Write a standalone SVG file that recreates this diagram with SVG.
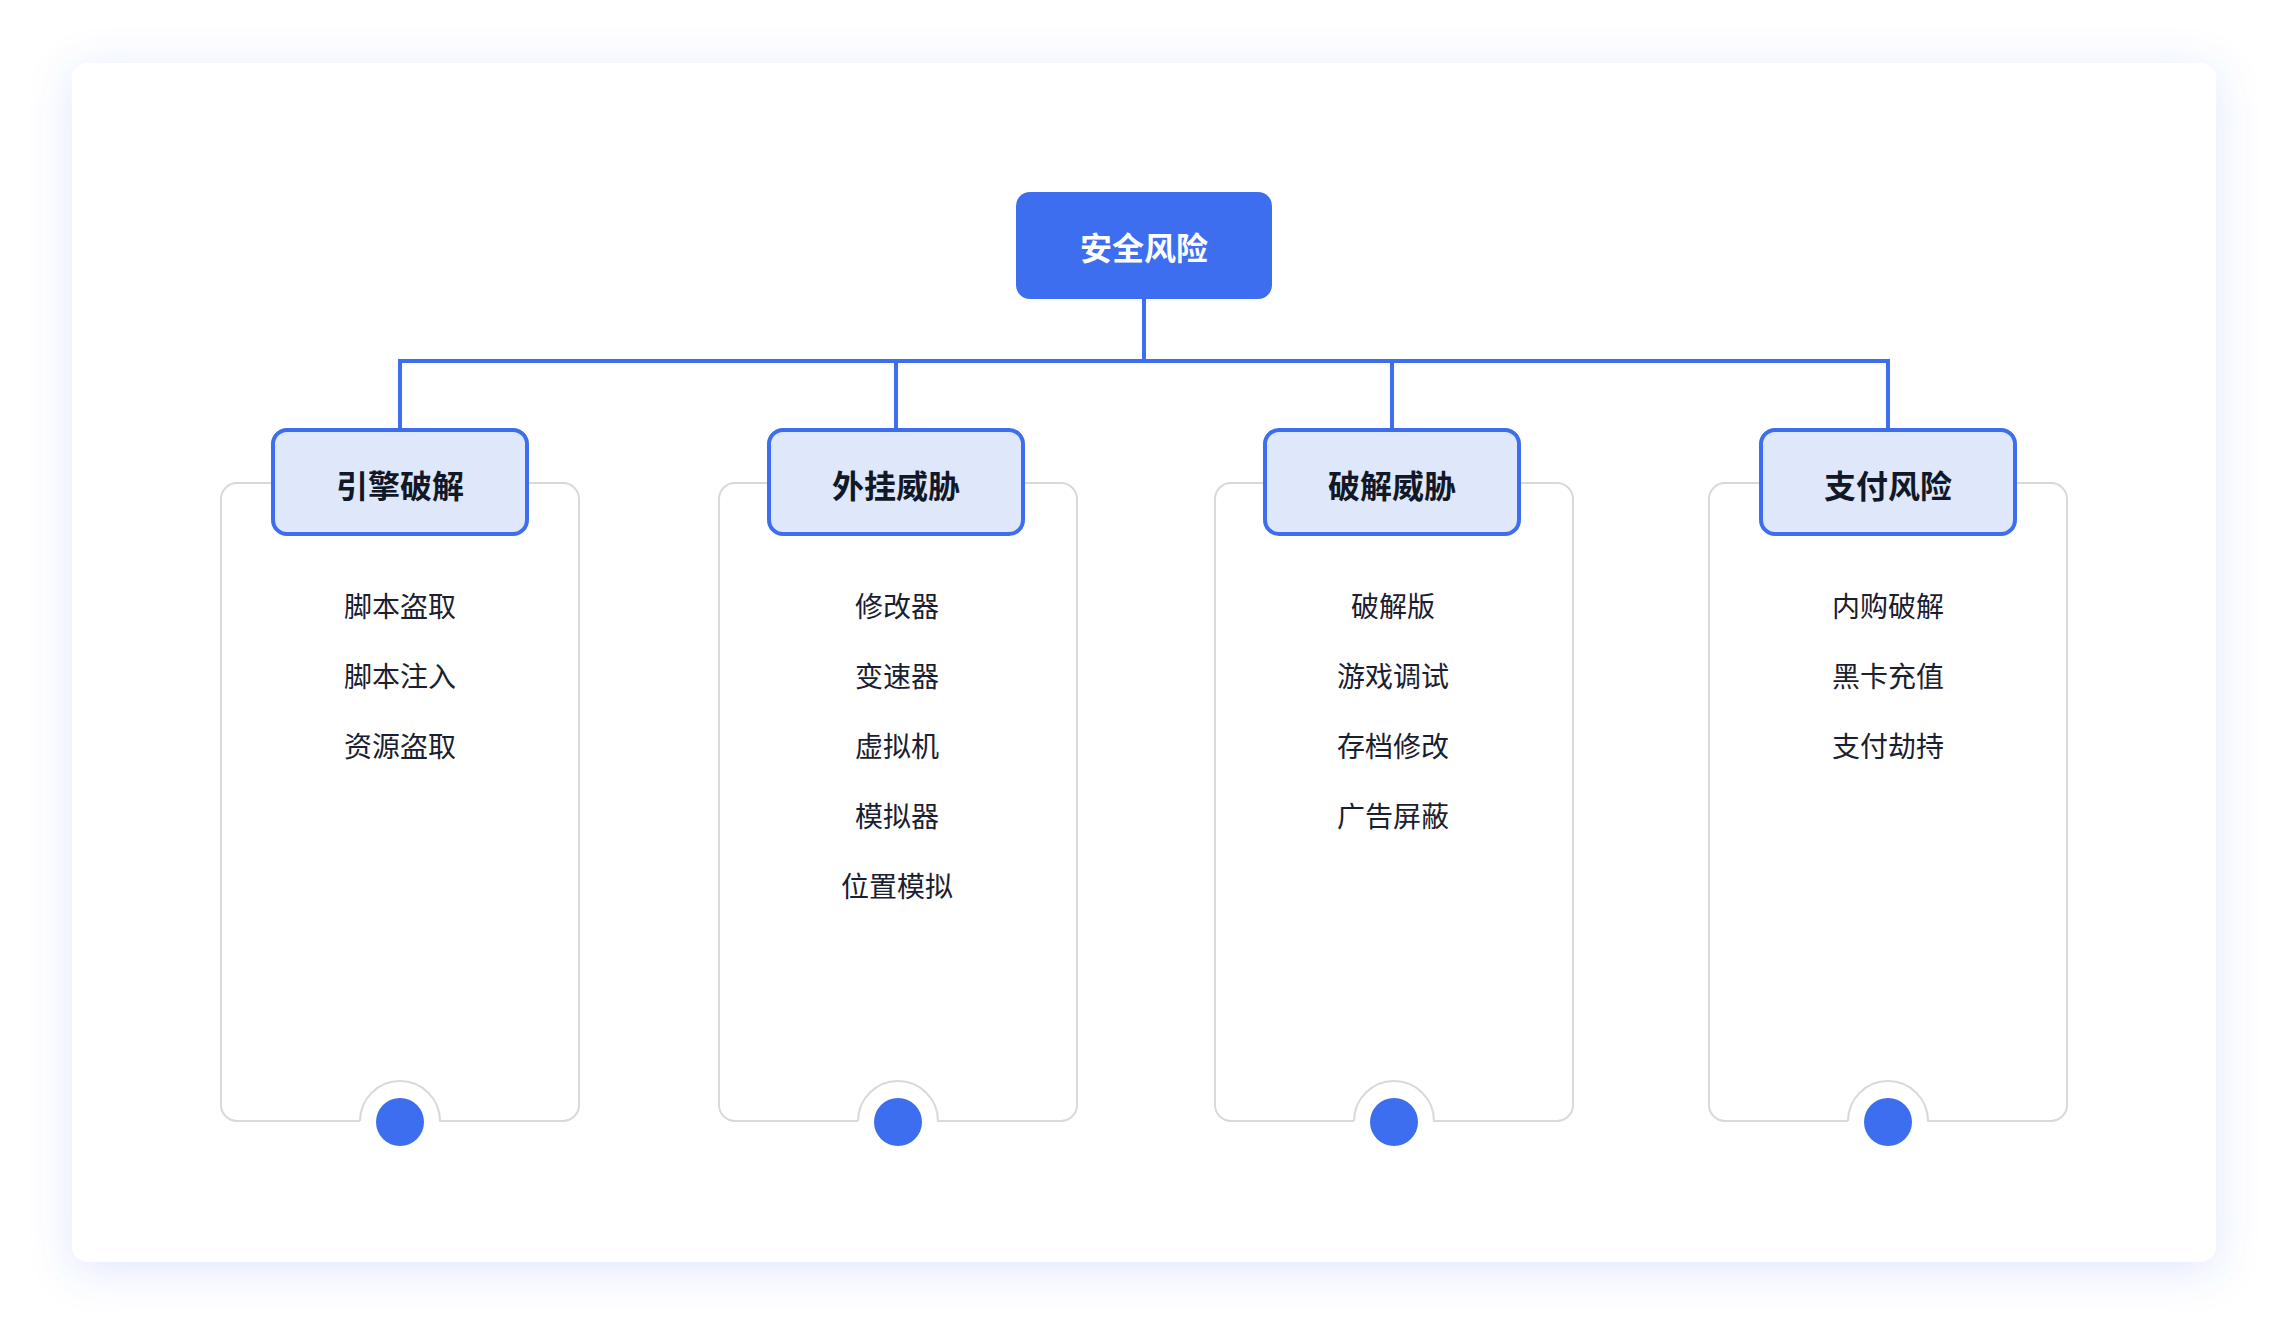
<svg xmlns="http://www.w3.org/2000/svg" width="2288" height="1342" viewBox="0 0 2288 1342">
<style>
.t{font-family:"Noto Sans CJK SC","Noto Sans",sans-serif;text-anchor:middle;dominant-baseline:central}
.root{font-size:32px;font-weight:700;fill:#ffffff}
.hd{font-size:32px;font-weight:700;fill:#111827}
.it{font-size:28px;font-weight:400;fill:#1a2030}
.panel{fill:none;stroke:#d9d9d9;stroke-width:2}
.hbox{fill:#dfe7fb;stroke:#3d6ef0;stroke-width:4}
.conn{fill:none;stroke:#3d6ef0;stroke-width:4}
.dot{fill:#3d6ef0}
</style>
<defs>
<filter id="sh" x="-10%" y="-15%" width="120%" height="130%">
<feDropShadow dx="0" dy="8" stdDeviation="22" flood-color="#3d6ef0" flood-opacity="0.16"/>
</filter>
<path id="pan" d="M360 1121 H237 A16 16 0 0 1 221 1105 V499 A16 16 0 0 1 237 483 H563 A16 16 0 0 1 579 499 V1105 A16 16 0 0 1 563 1121 H440 A40 40 0 0 0 360 1121"/>
</defs>
<rect width="2288" height="1342" fill="#ffffff"/>
<rect x="72" y="63" width="2144" height="1199" rx="16" fill="#ffffff" filter="url(#sh)"/>

<g id="connectors">
<path class="conn" d="M1144 299 V361 M400 361 H1888 M400 359 V428 M896 359 V428 M1392 359 V428 M1888 359 V428"/>
</g>

<g id="root">
<rect x="1016" y="192" width="256" height="107" rx="14" fill="#3d6ef0"/>
<text class="t root" x="1144" y="246">安全风险</text>
</g>

<g id="n1">
<use href="#pan" class="panel"/>
<rect class="hbox" x="273" y="430" width="254" height="104" rx="14"/>
<text class="t hd" x="400" y="484">引擎破解</text>
<text class="t it" x="400" y="605">脚本盗取</text>
<text class="t it" x="400" y="675">脚本注入</text>
<text class="t it" x="400" y="745">资源盗取</text>
<circle class="dot" cx="400" cy="1122" r="24"/>
</g>

<g id="n2">
<use href="#pan" class="panel" transform="translate(498 0)"/>
<rect class="hbox" x="769" y="430" width="254" height="104" rx="14"/>
<text class="t hd" x="896" y="484">外挂威胁</text>
<text class="t it" x="897" y="605">修改器</text>
<text class="t it" x="897" y="675">变速器</text>
<text class="t it" x="897" y="745">虚拟机</text>
<text class="t it" x="897" y="815">模拟器</text>
<text class="t it" x="897" y="885">位置模拟</text>
<circle class="dot" cx="898" cy="1122" r="24"/>
</g>

<g id="n3">
<use href="#pan" class="panel" transform="translate(994 0)"/>
<rect class="hbox" x="1265" y="430" width="254" height="104" rx="14"/>
<text class="t hd" x="1392" y="484">破解威胁</text>
<text class="t it" x="1393" y="605">破解版</text>
<text class="t it" x="1393" y="675">游戏调试</text>
<text class="t it" x="1393" y="745">存档修改</text>
<text class="t it" x="1393" y="815">广告屏蔽</text>
<circle class="dot" cx="1394" cy="1122" r="24"/>
</g>

<g id="n4">
<use href="#pan" class="panel" transform="translate(1488 0)"/>
<rect class="hbox" x="1761" y="430" width="254" height="104" rx="14"/>
<text class="t hd" x="1888" y="484">支付风险</text>
<text class="t it" x="1888" y="605">内购破解</text>
<text class="t it" x="1888" y="675">黑卡充值</text>
<text class="t it" x="1888" y="745">支付劫持</text>
<circle class="dot" cx="1888" cy="1122" r="24"/>
</g>
</svg>
